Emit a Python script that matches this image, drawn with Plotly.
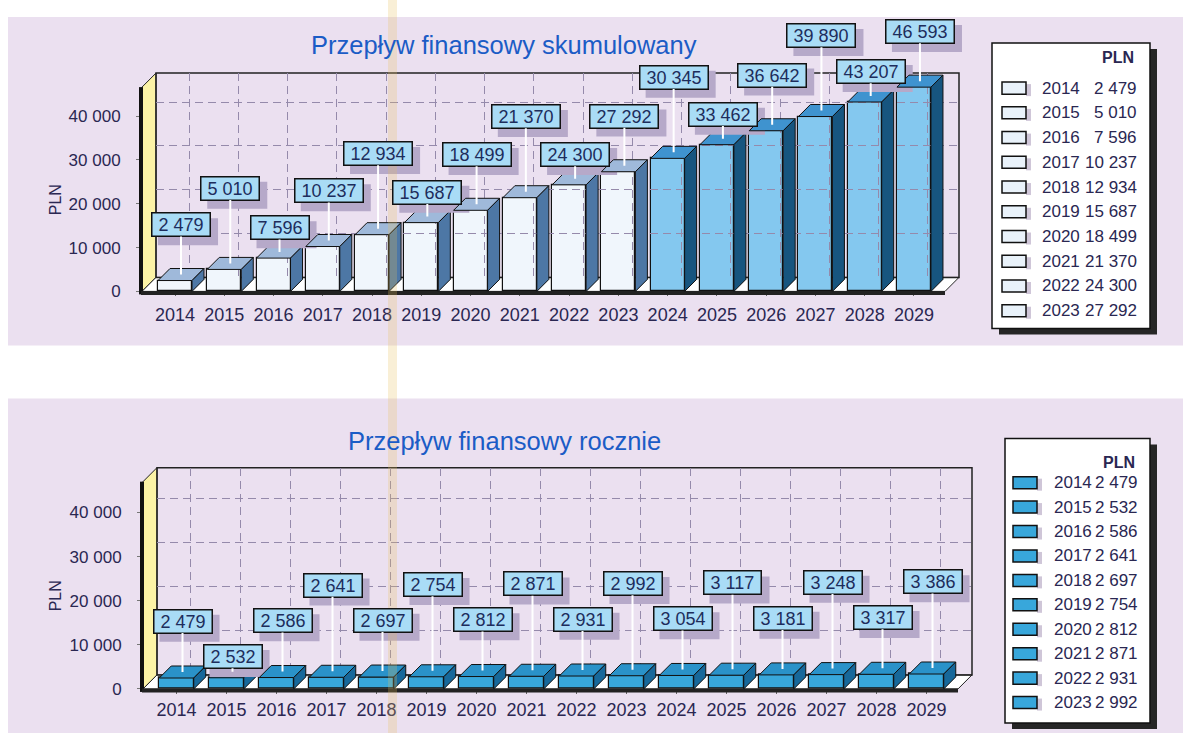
import plotly.graph_objects as go

# ---------------- data ----------------
years = list(range(2014, 2030))
cumulative = [2479, 5010, 7596, 10237, 12934, 15687, 18499, 21370,
              24300, 27292, 30345, 33462, 36642, 39890, 43207, 46593]
annual = [2479, 2532, 2586, 2641, 2697, 2754, 2812, 2871,
          2931, 2992, 3054, 3117, 3181, 3248, 3317, 3386]
y_ticks = [0, 10000, 20000, 30000, 40000]
legend_count = 10
title_top = "Przepływ finansowy skumulowany"
title_bottom = "Przepływ finansowy rocznie"
unit = "PLN"

# ---------------- styles ----------------
W, H = 1183, 733          # reference coordinate space
HF = 744                  # rendered figure height (page is captured and fitted to 733)
VS = HF / H
FONT = "Liberation Sans, Arial, sans-serif"
PANEL = "#ebe0f0"
TXT = "#2a2752"
LABEL_BG = "#a9dcf6"
LABEL_SHADOW = "#b6a9c9"
GRID = "#958aab"
LFONT = 18


def fmt(v):
    return f"{v:,}".replace(",", " ")


def px(x):
    return x / W


def py(y):
    return 1 - y / H


XR = [2013.33, 2029.63]
D = 14       # wall depth (px)
BD = 12      # bar depth (px)
BW = 0.69    # bar width (years)
XEXT = 990   # right pixel edge of the (invisible) front plotting area

charts = [
    dict(ax="", x0=142, x1=945, ytop=87, ybot=291, ymax=46600, ext=18, xstand=3,
         values=cumulative, title=title_top, title_y=45,
         front=["#f0f6fc"] * 10 + ["#84c8ef"] * 6,
         top=["#9fb9da"] * 10 + ["#3f93cf"] * 6,
         side=["#4d77a5"] * 10 + ["#17557f"] * 6,
         rise=[49, 74, 24] * 5 + [49],
         leg=dict(bx0=992, bx1=1150, by0=43, by1=328, pln_y=57, row0=88, step=24.7,
                  sw0=1002, sw1=1026, yx=1040, vx=1139, fill="#e9f2fa")),
    dict(ax="3", x0=143, x1=958, ytop=481, ybot=688, ymax=47000, ext=400, xstand=0,
         values=annual, title=title_bottom, title_y=440,
         front=["#38a7db"] * 16, top=["#2a92c9"] * 16, side=["#17689a"] * 16,
         rise=[50, 15, 50] + [85, 50] * 6 + [85],
         leg=dict(bx0=1005, bx1=1150, by0=438, by1=722, pln_y=462, row0=482, step=24.4,
                  sw0=1013, sw1=1037, yx=1052, vx=1140, fill="#38a7db")),
]

fig = go.Figure()
shapes = []
annotations = []

# panels
shapes.append(dict(type="rect", xref="paper", yref="paper", x0=px(8), x1=px(1183),
                   y0=py(345), y1=py(17), fillcolor=PANEL, line=dict(width=0), layer="below"))
shapes.append(dict(type="rect", xref="paper", yref="paper", x0=px(8), x1=px(1183),
                   y0=py(733), y1=py(398), fillcolor=PANEL, line=dict(width=0), layer="below"))


def text_width(s):
    # approximate pixel width of a label in the label font
    return sum(0.556 * LFONT if ch.isdigit() else 0.278 * LFONT for ch in s)


layout_axes = {}
for ci, c in enumerate(charts):
    fx = "x" + c["ax"]
    fy = "y" + c["ax"]
    bnum = str(int(c["ax"] or 1) + 1)
    bx = "x" + bnum
    by = "y" + bnum
    ppy = (c["ybot"] - c["ytop"]) / c["ymax"]          # ref px per unit
    ppx = (c["x1"] - c["x0"]) / (XR[1] - XR[0])          # px per year
    ymax_ext = (c["ybot"] - c["ext"]) / ppy
    xmax_ext = XR[1] + (XEXT - c["x1"]) / ppx

    # front axes (extended so 3D faces / shadows are not clipped)
    layout_axes["xaxis" + c["ax"]] = dict(
        domain=[px(c["x0"]), px(XEXT)], range=[XR[0], xmax_ext], anchor=fy,
        tickvals=years, ticktext=[str(y) for y in years],
        tickfont=dict(family=FONT, size=18, color=TXT),
        ticks="outside", ticklen=4, tickcolor="#666", ticklabelstandoff=c["xstand"],
        showgrid=False, showline=False, zeroline=False, fixedrange=True)
    layout_axes["yaxis" + c["ax"]] = dict(
        domain=[py(c["ybot"]), py(c["ext"])], range=[0, ymax_ext], anchor=fx,
        tickvals=y_ticks, ticktext=[fmt(v) for v in y_ticks],
        tickfont=dict(family=FONT, size=17, color=TXT),
        ticks="outside", ticklen=5, tickcolor="#777", ticklabelstandoff=12,
        showgrid=False, showline=False, zeroline=False, fixedrange=True)
    # back wall axes (grid only)
    layout_axes["xaxis" + bnum] = dict(
        domain=[px(c["x0"] + D), px(c["x1"] + D)], range=XR, anchor=by,
        tickvals=years, showticklabels=False, ticks="",
        showgrid=True, gridcolor=GRID, griddash="8px,5px", gridwidth=1,
        showline=False, zeroline=False, fixedrange=True)
    layout_axes["yaxis" + bnum] = dict(
        domain=[py(c["ybot"] - D), py(c["ytop"] - D)], range=[0, c["ymax"]], anchor=bx,
        tickvals=y_ticks[1:], showticklabels=False, ticks="",
        showgrid=True, gridcolor=GRID, griddash="8px,5px", gridwidth=1,
        showline=False, zeroline=False, fixedrange=True)
    fig.add_trace(go.Scatter(x=[], y=[], xaxis=bx, yaxis=by, showlegend=False))

    x0, x1, yt, yb = c["x0"], c["x1"], c["ytop"], c["ybot"]

    def pp(pts):
        return "M " + " L ".join(f"{px(a):.5f},{py(b):.5f}" for a, b in pts) + " Z"

    # yellow side wall
    shapes.append(dict(type="path", xref="paper", yref="paper", layer="below",
                       path=pp([(x0, yb), (x0, yt), (x0 + D, yt - D), (x0 + D, yb - D)]),
                       fillcolor="#fcf3a6", line=dict(color="#222", width=1)))
    # floor
    shapes.append(dict(type="path", xref="paper", yref="paper", layer="below",
                       path=pp([(x0, yb), (x1, yb), (x1 + D, yb - D), (x0 + D, yb - D)]),
                       fillcolor="#ffffff", line=dict(color="#222", width=1)))
    # back wall frame
    shapes.append(dict(type="rect", xref="paper", yref="paper", layer="below",
                       x0=px(x0 + D), x1=px(x1 + D), y0=py(yb - D), y1=py(yt - D),
                       line=dict(color="#222", width=1.5)))
    # thick front axis lines
    shapes.append(dict(type="line", xref="paper", yref="paper", layer="above",
                       x0=px(x0 - 1), x1=px(x0 - 1), y0=py(yb + 3), y1=py(yt),
                       line=dict(color="#111", width=4)))
    shapes.append(dict(type="line", xref="paper", yref="paper", layer="above",
                       x0=px(x0 - 1), x1=px(x1), y0=py(yb + 1.5), y1=py(yb + 1.5),
                       line=dict(color="#222", width=4)))

    # bars (front faces)
    fig.add_trace(go.Bar(x=years, y=c["values"], width=BW, xaxis=fx, yaxis=fy,
                         marker=dict(color=c["front"], line=dict(color="#111", width=1.2)),
                         showlegend=False, hoverinfo="x+y"))
    dxu = BD / ppx
    dyu = BD / ppy
    for i, (yr, v) in enumerate(zip(years, c["values"])):
        xl, xr = yr - BW / 2, yr + BW / 2
        top_path = f"M {xl},{v} L {xr},{v} L {xr+dxu},{v+dyu} L {xl+dxu},{v+dyu} Z"
        side_path = f"M {xr},0 L {xr},{v} L {xr+dxu},{v+dyu} L {xr+dxu},{dyu} Z"
        shapes.append(dict(type="path", xref=fx, yref=fy, layer="above", path=top_path,
                           fillcolor=c["top"][i], line=dict(color="#111", width=1)))
        shapes.append(dict(type="path", xref=fx, yref=fy, layer="above", path=side_path,
                           fillcolor=c["side"][i], line=dict(color="#111", width=1)))
        # label shadow (pixel-sized rect anchored at the bar top)
        lab = fmt(v)
        bw = text_width(lab) + 2 * 0.278 * LFONT + 5
        bh = 27
        ax_, ay_ = yr + dxu / 2, v + dyu / 2
        rise = c["rise"][i] * VS
        shapes.append(dict(type="rect", xref=fx, yref=fy, layer="above",
                           xsizemode="pixel", ysizemode="pixel", xanchor=ax_, yanchor=ay_,
                           x0=-bw / 2 + 7, x1=bw / 2 + 7, y0=rise - bh / 2 - 7, y1=rise + bh / 2 - 7,
                           fillcolor=LABEL_SHADOW, line=dict(width=0)))
        annotations.append(dict(x=ax_, y=ay_, xref=fx, yref=fy,
                                text="\u00a0" + lab + "\u00a0", showarrow=True, ax=0, ay=-rise,
                                arrowhead=0, arrowwidth=2, standoff=0, borderpad=1,
                                xanchor="center", yanchor="middle",
                                bgcolor=LABEL_BG, bordercolor="#111",
                                borderwidth=1.5, arrowcolor="#ffffff",
                                font=dict(family=FONT, size=LFONT, color="#1d2d5c")))

    # title
    annotations.append(dict(xref="paper", yref="paper", x=px(504), y=py(c["title_y"]),
                            xanchor="center", yanchor="middle",
                            text=c["title"], showarrow=False,
                            font=dict(family=FONT, size=25.5, color="#1b5cc6")))
    # y axis title
    annotations.append(dict(xref="paper", yref="paper", x=px(55), y=py((yt + yb) / 2 + 10),
                            xanchor="center", yanchor="middle",
                            text=unit, showarrow=False, textangle=-90,
                            font=dict(family=FONT, size=16, color=TXT)))

    # legend box
    L = c["leg"]
    shapes.append(dict(type="rect", xref="paper", yref="paper", layer="below",
                       x0=px(L["bx0"] + 7), x1=px(L["bx1"] + 7), y0=py(L["by1"] + 6), y1=py(L["by0"] + 6),
                       fillcolor="#262626", line=dict(width=0)))
    shapes.append(dict(type="rect", xref="paper", yref="paper", layer="below",
                       x0=px(L["bx0"]), x1=px(L["bx1"]), y0=py(L["by1"]), y1=py(L["by0"]),
                       fillcolor="#ffffff", line=dict(color="#111", width=1.5)))
    annotations.append(dict(xref="paper", yref="paper", x=px(L["vx"] - 3), y=py(L["pln_y"]),
                            xanchor="right", yanchor="middle",
                            text="<b>" + unit + "</b>", showarrow=False,
                            font=dict(family=FONT, size=16, color=TXT)))
    for i in range(legend_count):
        ry = L["row0"] + i * L["step"]
        shapes.append(dict(type="rect", xref="paper", yref="paper", layer="below",
                           x0=px(L["sw1"]), x1=px(L["sw1"] + 5), y0=py(ry + 8), y1=py(ry - 4),
                           fillcolor="#cfc6d8", line=dict(width=0)))
        shapes.append(dict(type="rect", xref="paper", yref="paper", layer="below",
                           x0=px(L["sw0"]), x1=px(L["sw1"]), y0=py(ry + 6), y1=py(ry - 6),
                           fillcolor=L["fill"], line=dict(color="#111", width=1.5)))
        annotations.append(dict(xref="paper", yref="paper", x=px(L["yx"]), y=py(ry),
                                xanchor="left", yanchor="middle",
                                text=str(years[i]), showarrow=False,
                                font=dict(family=FONT, size=17, color=TXT)))
        annotations.append(dict(xref="paper", yref="paper", x=px(L["vx"]), y=py(ry),
                                xanchor="right", yanchor="middle",
                                text=fmt(c["values"][i]), showarrow=False,
                                font=dict(family=FONT, size=17, color=TXT)))

# scanner stripe
shapes.append(dict(type="rect", xref="paper", yref="paper", layer="above",
                   x0=px(388), x1=px(397), y0=0, y1=1,
                   fillcolor="rgba(232,190,90,0.25)", line=dict(width=0)))

fig.update_layout(
    width=W, height=HF, margin=dict(l=0, r=0, t=0, b=0),
    paper_bgcolor="#ffffff", plot_bgcolor="rgba(0,0,0,0)",
    showlegend=False, bargap=0, shapes=shapes, annotations=annotations,
    font=dict(family=FONT, color=TXT),
    **layout_axes,
)

page_fix = (
    "document.documentElement.style.margin='0';"
    "document.body.style.margin='0';"
    "document.body.style.overflow='hidden';"
)
fig.write_html("out.html", config={"displayModeBar": False}, post_script=page_fix)
